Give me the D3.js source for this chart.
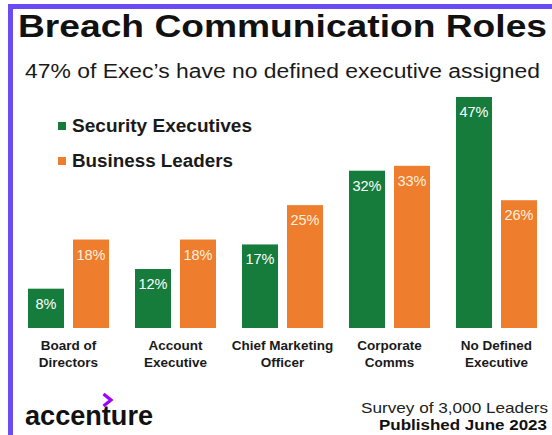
<!DOCTYPE html>
<html>
<head>
<meta charset="utf-8">
<script src="https://cdn.jsdelivr.net/npm/d3@7"></script>
<style>
  html, body { margin: 0; padding: 0; background: #fff; }
  svg { display: block; font-family: "Liberation Sans", Arial, sans-serif; }
</style>
</head>
<body>
<svg id="chart" width="552" height="435"></svg>
<script>
const categories = [
  ["Board of", "Directors"],
  ["Account", "Executive"],
  ["Chief Marketing", "Officer"],
  ["Corporate", "Comms"],
  ["No Defined", "Executive"]
];
const seriesNames = ["Security Executives", "Business Leaders"];
const securityExecutives = [8, 12, 17, 32, 47];
const businessLeaders = [18, 18, 25, 33, 26];
const titleText = "Breach Communication Roles";
const subtitleText = "47% of Exec\u2019s have no defined executive assigned";
const footerLines = ["Survey of 3,000 Leaders", "Published June 2023"];

const colors = { "Security Executives": "#167c3c", "Business Leaders": "#ef7d2e" };
const labelColors = { "Security Executives": "#ffffff", "Business Leaders": "#fff1de" };

const svg = d3.select("#chart");
svg.append("rect").attr("width", 552).attr("height", 435).attr("fill", "#fff");

// purple frame (top + left)
svg.append("rect").attr("x", 8).attr("y", 4).attr("width", 544).attr("height", 5).attr("fill", "#6b4cf4");
svg.append("rect").attr("x", 8).attr("y", 4).attr("width", 5).attr("height", 431).attr("fill", "#6b4cf4");

// title & subtitle
svg.append("text").attr("x", 18).attr("y", 37)
  .attr("font-size", 31).attr("font-weight", "bold").attr("fill", "#111")
  .attr("textLength", 529).attr("lengthAdjust", "spacingAndGlyphs")
  .text(titleText);
svg.append("text").attr("x", 25).attr("y", 78)
  .attr("font-size", 20).attr("fill", "#1a1a1a")
  .attr("textLength", 515).attr("lengthAdjust", "spacingAndGlyphs")
  .text(subtitleText);

const catKeys = categories.map(c => c.join(" "));
const data = catKeys.map((k, i) => ({
  key: k, lines: categories[i],
  values: [
    { series: seriesNames[0], value: securityExecutives[i] },
    { series: seriesNames[1], value: businessLeaders[i] }
  ]
}));

const x0 = d3.scaleBand().domain(catKeys).range([28, 537]).paddingInner(0.243).paddingOuter(0);
const x1 = d3.scaleBand().domain(seriesNames).range([0, x0.bandwidth()]).paddingInner(0.2).paddingOuter(0);
const y = d3.scaleLinear().domain([0, 47]).range([328, 97]);

const groups = svg.append("g").selectAll("g").data(data).join("g")
  .attr("transform", d => `translate(${x0(d.key)},0)`);

groups.selectAll("rect").data(d => d.values).join("rect")
  .attr("x", d => x1(d.series))
  .attr("y", d => y(d.value))
  .attr("width", x1.bandwidth())
  .attr("height", d => y(0) - y(d.value))
  .attr("fill", d => colors[d.series]);

groups.selectAll("text.val").data(d => d.values).join("text")
  .attr("class", "val")
  .attr("x", d => x1(d.series) + x1.bandwidth() / 2)
  .attr("y", d => y(d.value) + 20)
  .attr("text-anchor", "middle")
  .attr("font-size", 14.5)
  .attr("fill", d => labelColors[d.series])
  .text(d => d.value + "%");

// category labels
const catLabels = svg.append("g").selectAll("text").data(data).join("text")
  .attr("x", d => x0(d.key) + x0.bandwidth() / 2)
  .attr("y", 350)
  .attr("text-anchor", "middle")
  .attr("font-size", 13.5).attr("font-weight", "bold").attr("fill", "#1a1a1a");
catLabels.selectAll("tspan").data(d => d.lines).join("tspan")
  .attr("x", function() { return d3.select(this.parentNode).attr("x"); })
  .attr("dy", (d, i) => i === 0 ? 0 : 17)
  .text(d => d);

// legend
const legend = svg.append("g").selectAll("g").data(seriesNames).join("g")
  .attr("transform", (d, i) => `translate(58,${122 + i * 35})`);
legend.append("rect").attr("width", 8).attr("height", 8).attr("fill", d => colors[d]);
legend.append("text").attr("x", 14).attr("y", 10)
  .attr("font-size", 18).attr("font-weight", "bold").attr("fill", "#1a1a1a")
  .attr("textLength", (d, i) => i === 0 ? 180 : 161).attr("lengthAdjust", "spacingAndGlyphs")
  .text(d => d);

// accenture logo
svg.append("text").attr("x", 25).attr("y", 425)
  .attr("font-size", 28).attr("font-weight", "bold").attr("fill", "#111")
  .attr("textLength", 128).attr("lengthAdjust", "spacingAndGlyphs")
  .text("accenture");
svg.append("path").attr("d", "M103.5,394 L111,400 L103.5,406")
  .attr("fill", "none").attr("stroke", "#a100ff").attr("stroke-width", 3.2);

// footer
svg.append("text").attr("x", 548).attr("y", 413).attr("text-anchor", "end")
  .attr("font-size", 14.5).attr("fill", "#222")
  .attr("textLength", 187).attr("lengthAdjust", "spacingAndGlyphs")
  .text(footerLines[0]);
svg.append("text").attr("x", 547).attr("y", 430).attr("text-anchor", "end")
  .attr("font-size", 14.5).attr("font-weight", "bold").attr("fill", "#111")
  .attr("textLength", 168).attr("lengthAdjust", "spacingAndGlyphs")
  .text(footerLines[1]);
</script>
</body>
</html>
